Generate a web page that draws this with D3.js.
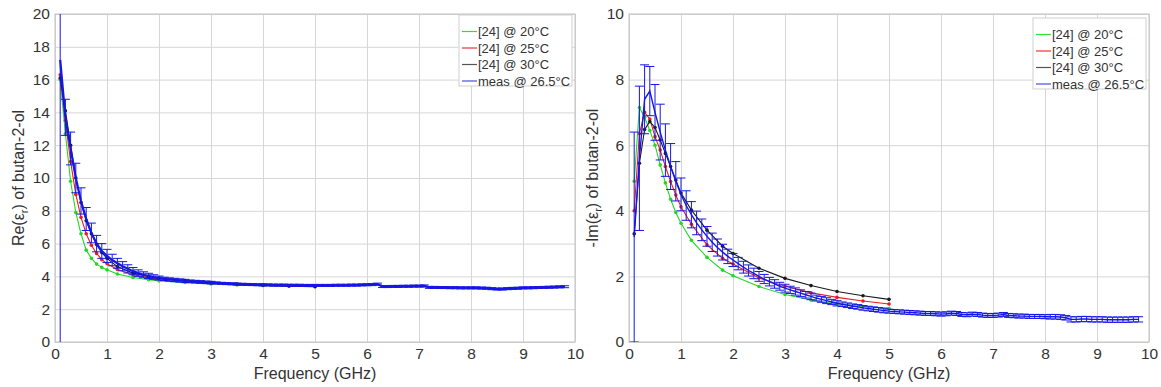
<!DOCTYPE html>
<html>
<head>
<meta charset="utf-8">
<script src="https://cdn.jsdelivr.net/npm/d3@7"></script>
<style>
  body { margin: 0; background: #fff; }
  text { font-family: "Liberation Sans", Arial, Helvetica, sans-serif; }
</style>
</head>
<body>
<div id="chart"></div>
<script>
/* DATA */
// reference model [24], sampled frequencies (GHz)
const refFreq = [0.1, 0.2, 0.3, 0.4, 0.5, 0.6, 0.7, 0.8, 0.9, 1.0, 1.2, 1.5, 1.8, 2.0, 2.5, 3.0, 3.5, 4.0, 4.5, 5.0];

const reRef20 = [16.0, 12.7, 9.8, 7.9, 6.6, 5.6, 5.1, 4.75, 4.55, 4.4, 4.15, 3.93, 3.8, 3.73, 3.63, 3.54, 3.48, 3.44, 3.4, 3.37];
const reRef25 = [16.3, 13.5, 11.0, 9.0, 7.6, 6.6, 5.9, 5.4, 5.02, 4.78, 4.42, 4.1, 3.93, 3.85, 3.7, 3.6, 3.52, 3.46, 3.41, 3.37];
const reRef30 = [16.1, 14.1, 12.0, 10.0, 8.5, 7.4, 6.6, 5.95, 5.45, 5.1, 4.6, 4.2, 4.0, 3.9, 3.74, 3.62, 3.54, 3.48, 3.43, 3.39];

const imRef20 = [4.9, 7.15, 6.85, 6.45, 6.0, 5.4, 4.85, 4.35, 3.95, 3.62, 3.1, 2.58, 2.19, 2.02, 1.69, 1.45, 1.28, 1.16, 1.08, 1.02];
const imRef25 = [4.0, 6.35, 7.0, 6.8, 6.26, 5.85, 5.35, 4.89, 4.48, 4.12, 3.59, 2.96, 2.55, 2.38, 1.95, 1.7, 1.5, 1.36, 1.25, 1.16];
const imRef30 = [3.3, 5.45, 6.48, 6.72, 6.54, 6.16, 5.75, 5.35, 4.94, 4.54, 4.02, 3.41, 2.92, 2.7, 2.25, 1.94, 1.72, 1.54, 1.41, 1.30];

// measurement @ 26.5 C
const measFreq = [0.1, 0.2, 0.3, 0.4, 0.5, 0.6, 0.7, 0.8, 0.9, 1.0,
  1.1, 1.2, 1.3, 1.4, 1.5, 1.6, 1.7, 1.8, 1.9, 2.0,
  2.1, 2.2, 2.3, 2.4, 2.5, 2.6, 2.7, 2.8, 2.9, 3.0,
  3.1, 3.2, 3.3, 3.4, 3.5, 3.6, 3.7, 3.8, 3.9, 4.0,
  4.1, 4.2, 4.3, 4.4, 4.5, 4.6, 4.7, 4.8, 4.9, 5.0,
  5.1, 5.2, 5.3, 5.4, 5.5, 5.6, 5.7, 5.8, 5.9, 6.0,
  6.1, 6.2, 6.3, 6.4, 6.5, 6.6, 6.7, 6.8, 6.9, 7.0,
  7.1, 7.2, 7.3, 7.4, 7.5, 7.6, 7.7, 7.8, 7.9, 8.0,
  8.1, 8.2, 8.3, 8.4, 8.5, 8.6, 8.7, 8.8, 8.9, 9.0,
  9.1, 9.2, 9.3, 9.4, 9.5, 9.6, 9.7, 9.8];

const measRe = [17.2, 13.7, 11.8, 10.0, 8.6, 7.5, 6.65, 6.0, 5.55, 5.25,
  5.0, 4.8, 4.62, 4.46, 4.32, 4.2, 4.1, 4.03, 3.96, 3.9,
  3.85, 3.81, 3.78, 3.75, 3.72, 3.7, 3.68, 3.66, 3.64, 3.62,
  3.6, 3.58, 3.56, 3.55, 3.53, 3.52, 3.51, 3.5, 3.49, 3.48,
  3.48, 3.47, 3.47, 3.47, 3.46, 3.46, 3.46, 3.45, 3.45, 3.45,
  3.45, 3.45, 3.45, 3.46, 3.46, 3.46, 3.47, 3.47, 3.48, 3.49,
  3.5, 3.53, 3.38, 3.38, 3.39, 3.39, 3.4, 3.4, 3.41, 3.41,
  3.42, 3.33, 3.33, 3.32, 3.32, 3.31, 3.31, 3.3, 3.3, 3.3,
  3.3, 3.29, 3.28, 3.25, 3.23, 3.23, 3.25, 3.27, 3.28, 3.3,
  3.3, 3.31, 3.32, 3.33, 3.34, 3.35, 3.36, 3.37];

const measReErr = [18, 1.1, 1.0, 0.9, 0.8, 0.7, 0.6, 0.5, 0.45, 0.4,
  0.35, 0.3, 0.28, 0.25, 0.22, 0.2, 0.18, 0.16, 0.14, 0.12,
  0.1, 0.1, 0.1, 0.1, 0.1, 0.08, 0.08, 0.08, 0.08, 0.08,
  0.06, 0.06, 0.06, 0.06, 0.06, 0.06, 0.06, 0.06, 0.06, 0.06,
  0.06, 0.06, 0.06, 0.06, 0.06, 0.06, 0.06, 0.06, 0.06, 0.06,
  0.06, 0.06, 0.06, 0.06, 0.06, 0.06, 0.06, 0.06, 0.06, 0.06,
  0.06, 0.06, 0.06, 0.06, 0.06, 0.06, 0.06, 0.06, 0.06, 0.06,
  0.06, 0.06, 0.06, 0.06, 0.06, 0.06, 0.06, 0.06, 0.06, 0.06,
  0.06, 0.06, 0.06, 0.06, 0.06, 0.06, 0.06, 0.06, 0.06, 0.06,
  0.06, 0.06, 0.06, 0.06, 0.06, 0.06, 0.06, 0.06];

const measIm = [3.2, 5.6, 7.4, 7.65, 7.0, 6.4, 5.85, 5.35, 4.9, 4.5,
  4.16, 3.88, 3.63, 3.42, 3.22, 3.04, 2.88, 2.74, 2.61, 2.5,
  2.39, 2.28, 2.18, 2.09, 2.0, 1.92, 1.84, 1.77, 1.7, 1.64,
  1.59, 1.54, 1.49, 1.44, 1.39, 1.34, 1.3, 1.26, 1.22, 1.18,
  1.15, 1.12, 1.09, 1.07, 1.04, 1.02, 1.0, 0.98, 0.96, 0.94,
  0.93, 0.92, 0.91, 0.9, 0.89, 0.88, 0.87, 0.87, 0.86, 0.85,
  0.86, 0.88, 0.87, 0.84, 0.83, 0.85, 0.84, 0.82, 0.81, 0.81,
  0.82, 0.84, 0.81, 0.8, 0.79, 0.79, 0.78, 0.78, 0.78, 0.77,
  0.77, 0.77, 0.76, 0.74, 0.69, 0.69, 0.7, 0.7, 0.69, 0.69,
  0.69, 0.68, 0.68, 0.68, 0.68, 0.68, 0.69, 0.69];

const measImErr = [3.2, 2.2, 1.05, 0.75, 0.85, 0.85, 0.8, 0.7, 0.6, 0.5,
  0.45, 0.4, 0.36, 0.33, 0.3, 0.28, 0.26, 0.24, 0.22, 0.2,
  0.19, 0.18, 0.17, 0.16, 0.15, 0.14, 0.13, 0.13, 0.12, 0.12,
  0.11, 0.11, 0.1, 0.1, 0.1, 0.09, 0.09, 0.09, 0.08, 0.08,
  0.07, 0.07, 0.07, 0.07, 0.07, 0.07, 0.07, 0.07, 0.07, 0.06,
  0.06, 0.06, 0.06, 0.06, 0.06, 0.06, 0.06, 0.06, 0.06, 0.06,
  0.06, 0.06, 0.06, 0.06, 0.06, 0.06, 0.06, 0.06, 0.06, 0.06,
  0.06, 0.06, 0.06, 0.06, 0.06, 0.06, 0.06, 0.06, 0.06, 0.06,
  0.07, 0.07, 0.07, 0.07, 0.08, 0.08, 0.08, 0.08, 0.08, 0.08,
  0.08, 0.08, 0.08, 0.08, 0.08, 0.08, 0.08, 0.08];

const xTicks = [0, 1, 2, 3, 4, 5, 6, 7, 8, 9, 10];
const reTicks = [0, 2, 4, 6, 8, 10, 12, 14, 16, 18, 20];
const imTicks = [0, 2, 4, 6, 8, 10];
const legendLabels = ["[24] @ 20°C", "[24] @ 25°C", "[24] @ 30°C", "meas @ 26.5°C"];

/* STYLE */
const colors = ["#22d822", "#e81c1c", "#1a1a1a", "#1515e6"];
const legendColors = ["#33dd33", "#ee3333", "#555555", "#4848e8"];
const gridColor = "#d6d6d6";
const frameColor = "#c2c2c2";

const svg = d3.select("#chart").append("svg")
  .attr("width", 1161)
  .attr("height", 387);

const panels = [
  { id: "re", left: 55, right: 575, top: 14, bottom: 342, yTicks: reTicks,
    refs: [reRef20, reRef25, reRef30], meas: measRe, err: measReErr, measWidth: 2.2,
    titlePre: "Re(", titleX: 24, legendTop: 15 },
  { id: "im", left: 629, right: 1149, top: 14, bottom: 342, yTicks: imTicks,
    refs: [imRef20, imRef25, imRef30], meas: measIm, err: measImErr, measWidth: 1.4,
    titlePre: "-Im(", titleX: 598, legendTop: 18 }
];

panels.forEach(drawPanel);

function drawPanel(p) {
  const xScale = d3.scaleLinear().domain([0, 10]).range([p.left, p.right]);
  const yScale = d3.scaleLinear().domain([0, d3.max(p.yTicks)]).range([p.bottom, p.top]);
  const g = svg.append("g");

  // axes with grid lines
  const xAxis = d3.axisBottom(xScale)
    .tickValues(xTicks)
    .tickSize(-(p.bottom - p.top))
    .tickPadding(6)
    .tickFormat(d3.format("d"));
  const yAxis = d3.axisLeft(yScale)
    .tickValues(p.yTicks)
    .tickSize(-(p.right - p.left))
    .tickPadding(5)
    .tickFormat(d3.format("d"));

  const xg = g.append("g").attr("transform", `translate(0,${p.bottom})`).call(xAxis);
  const yg = g.append("g").attr("transform", `translate(${p.left},0)`).call(yAxis);
  [xg, yg].forEach(a => {
    a.select(".domain").remove();
    a.selectAll(".tick line").attr("stroke", gridColor).attr("stroke-width", 1);
    a.selectAll(".tick text")
      .attr("fill", "#333")
      .style("font-size", "15.5px")
      .style("font-family", '"Liberation Sans", Arial, sans-serif');
  });

  g.append("rect")
    .attr("x", p.left).attr("y", p.top)
    .attr("width", p.right - p.left).attr("height", p.bottom - p.top)
    .attr("fill", "none").attr("stroke", frameColor);

  // axis titles
  g.append("text")
    .attr("x", (p.left + p.right) / 2).attr("y", 379)
    .attr("text-anchor", "middle")
    .attr("fill", "#333").style("font-size", "16px")
    .text("Frequency (GHz)");

  const yt = g.append("text")
    .attr("transform", `translate(${p.titleX},${(p.top + p.bottom) / 2}) rotate(-90)`)
    .attr("text-anchor", "middle")
    .attr("fill", "#333").style("font-size", "16px");
  yt.append("tspan").text(p.titlePre + "ε");
  yt.append("tspan").attr("dy", 4).style("font-size", "11px").text("r");
  yt.append("tspan").attr("dy", -4).text(") of butan-2-ol");

  // clip
  svg.append("clipPath").attr("id", "clip-" + p.id)
    .append("rect")
    .attr("x", p.left).attr("y", p.top)
    .attr("width", p.right - p.left).attr("height", p.bottom - p.top);

  const plot = g.append("g").attr("clip-path", `url(#clip-${p.id})`);

  const lineGen = d3.line()
    .x(d => xScale(d[0]))
    .y(d => yScale(d[1]));

  // reference curves
  p.refs.forEach((vals, i) => {
    const pts = refFreq.map((f, k) => [f, vals[k]]);
    plot.append("path")
      .datum(pts)
      .attr("fill", "none")
      .attr("stroke", colors[i])
      .attr("stroke-width", 1.1)
      .attr("d", lineGen);
    plot.selectAll(".dot" + i)
      .data(pts)
      .join("circle")
      .attr("class", "dot" + i)
      .attr("cx", d => xScale(d[0]))
      .attr("cy", d => yScale(d[1]))
      .attr("r", 1.8)
      .attr("fill", colors[i]);
  });

  // measured: error bars + line
  const meas = measFreq.map((f, k) => ({ f: f, v: p.meas[k], e: p.err[k] }));
  const cap = 4.5;
  const eb = plot.append("g").attr("stroke", colors[3]).attr("stroke-width", 1);
  eb.selectAll(".ev").data(meas).join("line")
    .attr("class", "ev")
    .attr("x1", d => xScale(d.f)).attr("x2", d => xScale(d.f))
    .attr("y1", d => yScale(d.v - d.e)).attr("y2", d => yScale(d.v + d.e));
  eb.selectAll(".ct").data(meas).join("line")
    .attr("class", "ct")
    .attr("x1", d => xScale(d.f) - cap).attr("x2", d => xScale(d.f) + cap)
    .attr("y1", d => yScale(d.v + d.e)).attr("y2", d => yScale(d.v + d.e));
  eb.selectAll(".cb").data(meas).join("line")
    .attr("class", "cb")
    .attr("x1", d => xScale(d.f) - cap).attr("x2", d => xScale(d.f) + cap)
    .attr("y1", d => yScale(d.v - d.e)).attr("y2", d => yScale(d.v - d.e));

  plot.append("path")
    .datum(meas.map(d => [d.f, d.v]))
    .attr("fill", "none")
    .attr("stroke", colors[3])
    .attr("stroke-width", p.measWidth)
    .attr("d", lineGen);

  // legend
  const lw = 113, lh = 71;
  const lx = p.right - 3 - lw, ly = p.legendTop;
  const leg = g.append("g");
  leg.append("rect")
    .attr("x", lx).attr("y", ly).attr("width", lw).attr("height", lh)
    .attr("fill", "#fff").attr("stroke", "#cfcfcf");
  legendLabels.forEach((lab, i) => {
    const cy = ly + 16.5 + i * 16.5;
    leg.append("line")
      .attr("x1", lx + 3).attr("x2", lx + 18)
      .attr("y1", cy).attr("y2", cy)
      .attr("stroke", legendColors[i]).attr("stroke-width", 1.2);
    leg.append("text")
      .attr("x", lx + 19).attr("y", cy + 4.6)
      .attr("fill", "#333").style("font-size", "13px")
      .text(lab);
  });
}
</script>
</body>
</html>
